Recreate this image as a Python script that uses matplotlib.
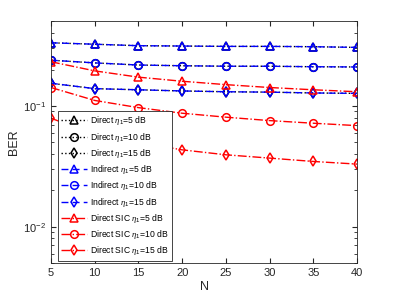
import matplotlib
matplotlib.use("Agg")
import matplotlib.pyplot as plt
from matplotlib.ticker import LogLocator, NullFormatter

plt.rcParams['font.family'] = ['Liberation Sans', 'DejaVu Sans']
plt.rcParams['mathtext.fontset'] = 'custom'
plt.rcParams['mathtext.it'] = 'Liberation Serif:italic'
plt.rcParams['mathtext.rm'] = 'Liberation Sans'

N = [5, 10, 15, 20, 25, 30, 35, 40]
direct_5 = [0.333, 0.324, 0.315, 0.313, 0.311, 0.311, 0.309, 0.305]
direct_10 = [0.239, 0.227, 0.218, 0.215, 0.213, 0.213, 0.211, 0.210]
direct_15 = [0.154, 0.139, 0.136, 0.133, 0.131, 0.130, 0.128, 0.127]
indirect_5 = [0.333, 0.324, 0.315, 0.313, 0.311, 0.311, 0.309, 0.305]
indirect_10 = [0.239, 0.227, 0.218, 0.215, 0.213, 0.213, 0.211, 0.210]
indirect_15 = [0.154, 0.139, 0.136, 0.133, 0.131, 0.130, 0.128, 0.127]
sic_5 = [0.232, 0.195, 0.173, 0.160, 0.150, 0.142, 0.136, 0.131]
sic_10 = [0.142, 0.111, 0.0968, 0.0870, 0.0807, 0.0756, 0.0719, 0.0687]
sic_15 = [0.0791, 0.058, 0.050, 0.0433, 0.0394, 0.0370, 0.0347, 0.0330]

labels = [r'Direct $\eta_1$=5 dB', r'Direct $\eta_1$=10 dB', r'Direct $\eta_1$=15 dB',
          r'Indirect $\eta_1$=5 dB', r'Indirect $\eta_1$=10 dB', r'Indirect $\eta_1$=15 dB',
          r'Direct SIC $\eta_1$=5 dB', r'Direct SIC $\eta_1$=10 dB', r'Direct SIC $\eta_1$=15 dB']

fig = plt.figure(figsize=(3.95, 2.98), dpi=100)
ax = fig.add_axes([0.129, 0.117, 0.775, 0.811])

series = [direct_5, direct_10, direct_15, indirect_5, indirect_10, indirect_15, sic_5, sic_10, sic_15]
colors = ['k'] * 3 + ['#0000ff'] * 3 + ['#ff0000'] * 3
styles = [':'] * 3 + [(0, (5, 3))] * 3 + ['-.'] * 3
markers = ['^', 'o', 'd'] * 3

for s, c, ls, m, lab in zip(series, colors, styles, markers, labels):
    ax.plot(N, s, color=c, linestyle=ls, marker=m, mfc='none', mec=c,
            markersize=5.5, markeredgewidth=1.1, linewidth=1.0, label=lab)

ax.set_yscale('log')
ax.set_xlim(5, 40)
ax.set_ylim(0.005, 0.5)
ax.set_xticks(N)
ax.yaxis.set_major_locator(LogLocator(base=10, numticks=10))
ax.yaxis.set_minor_locator(LogLocator(base=10, subs=range(2, 10), numticks=20))
ax.yaxis.set_minor_formatter(NullFormatter())
ax.tick_params(which='both', direction='in', top=True, right=True, labelsize=8, colors='#262626')
ax.tick_params(which='major', length=3.5)
ax.tick_params(which='minor', length=2)
for sp in ax.spines.values():
    sp.set_color('#262626')
    sp.set_linewidth(0.6)
ax.set_xlabel('N', fontsize=9, color='#262626', labelpad=2)
ax.set_ylabel('BER', fontsize=9, color='#262626', labelpad=2)

leg = ax.legend(loc='upper left', bbox_to_anchor=(0.023, 0.63), fontsize=6.2,
                handlelength=3.0, handletextpad=0.3, labelspacing=0.38,
                borderpad=0.4, borderaxespad=0, frameon=True, fancybox=False,
                edgecolor='#262626', framealpha=1)
leg.get_frame().set_linewidth(0.6)

fig.savefig('out.png', dpi=100)
